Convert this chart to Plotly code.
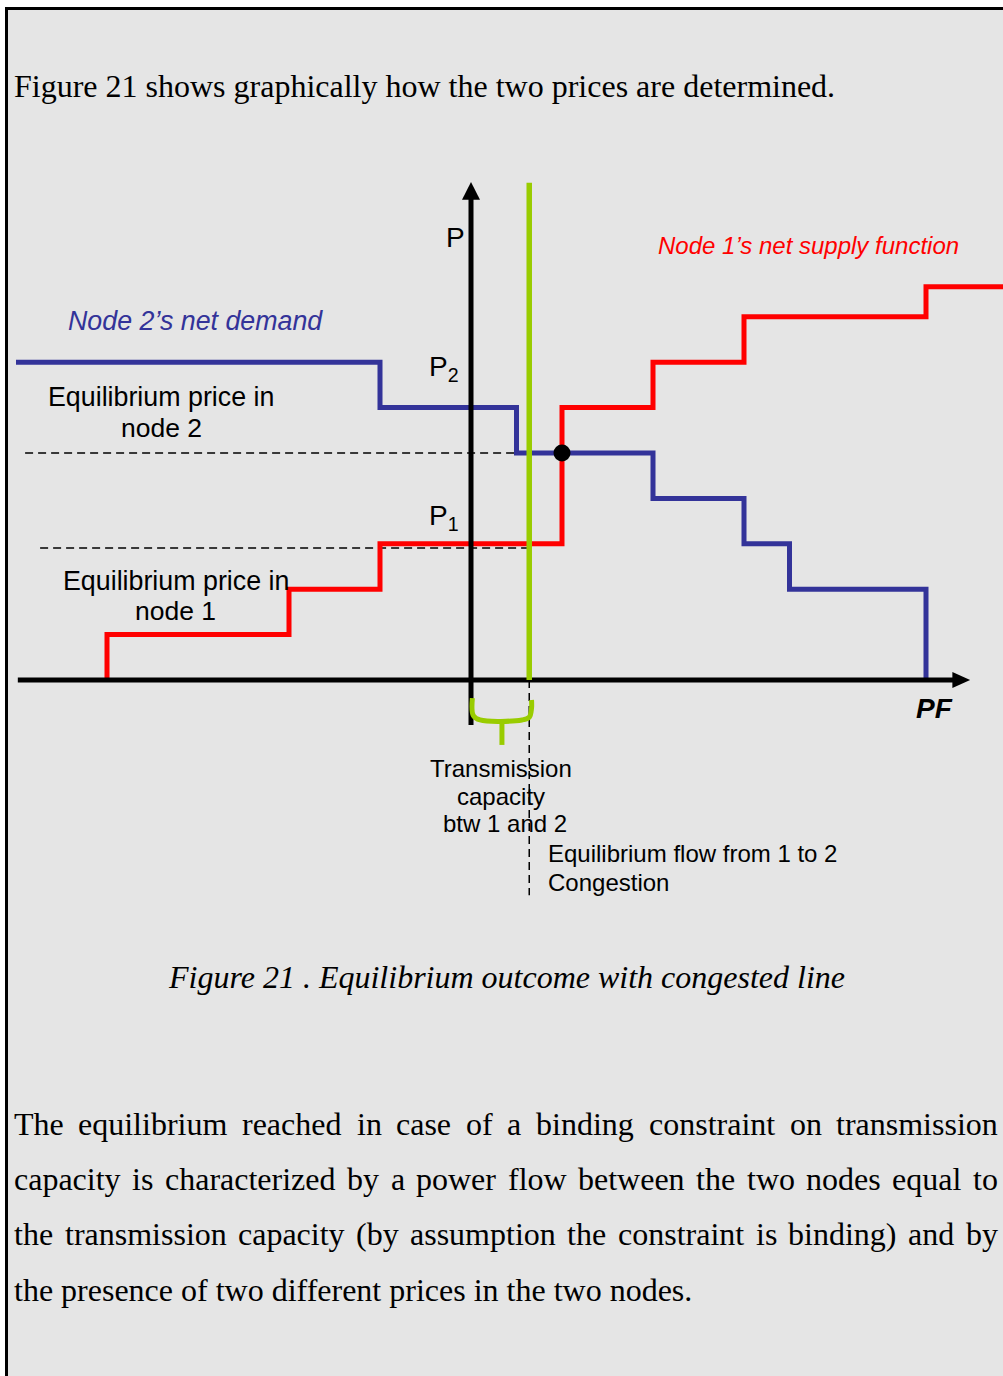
import plotly.graph_objects as go

W, H = 1003, 1376

# ---------------- data (chart units: quantity PF, price P) ----------------
SUPPLY_Q = [-8, -4, -2, 2, 4, 6, 10, 11.8]      # node 1 net supply breakpoints
SUPPLY_P = [0, 1, 2, 3, 6, 7, 8, 8.66]
DEMAND_Q = [-10, -2, 1, 4, 6, 7, 10]            # node 2 net demand breakpoints
DEMAND_P = [7, 6, 5, 4, 3, 2, 0]
EQ_Q = [2]
EQ_P = [5]
P1_LEVEL = 2.91
P2_LEVEL = 5.0
CAPACITY = 1.28
P2_DASH_Q = [-9.8, 1.0]
P1_DASH_Q = [-9.47, 1.25]
FLOW_DASH_P = [0, -4.74]
GREEN_TOP = 10.95
X_AXIS_Q = [-9.96, 10.6]
X_TIP = 10.97
Y_AXIS_P = [-0.99, 10.6]
Y_TIP = 10.97

# pixel scale of the axes
X0_PX, Y0_PX, UX, UY = 471, 680, 45.5, 45.4
XR = [-X0_PX / UX, (W - X0_PX) / UX]
YR = [(Y0_PX - H) / UY, Y0_PX / UY]

RED = "#ff0000"
BLUE = "#333399"
GREEN = "#99cc00"
SANS = "Liberation Sans, Arial, sans-serif"
SERIF = "Liberation Serif, Times New Roman, serif"

fig = go.Figure()

def line(xs, ys, color, width, dash="solid", shape="linear"):
    fig.add_trace(go.Scatter(x=xs, y=ys, mode="lines", hoverinfo="skip",
                             line=dict(color=color, width=width, dash=dash, shape=shape)))

# dashed guide lines
line(P2_DASH_Q, [P2_LEVEL, P2_LEVEL], "black", 1.5, "8px,5px")
line(P1_DASH_Q, [P1_LEVEL, P1_LEVEL], "black", 1.5, "8px,5px")
line([CAPACITY, CAPACITY], FLOW_DASH_P, "black", 1.5, "8px,5px")

# curves
line(SUPPLY_Q, SUPPLY_P, RED, 5, shape="vh")
line(DEMAND_Q, DEMAND_P, BLUE, 5, shape="hv")

# axes
line(X_AXIS_Q, [0, 0], "black", 5)
line([0, 0], Y_AXIS_P, "black", 5)
hx = 8 / UY
fig.add_trace(go.Scatter(x=[X_AXIS_Q[1] - 0.02, X_TIP, X_AXIS_Q[1] - 0.02, X_AXIS_Q[1] - 0.02],
                         y=[hx, 0, -hx, hx], mode="lines", fill="toself",
                         fillcolor="black", line=dict(width=0, color="black"), hoverinfo="skip"))
hy = 9 / UX
fig.add_trace(go.Scatter(x=[-hy, 0, hy, -hy],
                         y=[Y_AXIS_P[1] - 0.02, Y_TIP, Y_AXIS_P[1] - 0.02, Y_AXIS_P[1] - 0.02],
                         mode="lines", fill="toself",
                         fillcolor="black", line=dict(width=0, color="black"), hoverinfo="skip"))

# transmission capacity line and bracket (brace shape)
line([CAPACITY, CAPACITY], [0, GREEN_TOP], GREEN, 5.5)
line([0.03, 0.05, 0.2, 1.12, CAPACITY + 0.0, CAPACITY + 0.05, CAPACITY + 0.05],
     [-0.40, -0.78, -0.88, -0.88, -0.82, -0.62, -0.44], GREEN, 5, shape="spline")
line([0.68, 0.68], [-0.88, -1.43], GREEN, 5)

# equilibrium point
fig.add_trace(go.Scatter(x=EQ_Q, y=EQ_P, mode="markers", hoverinfo="skip",
                         marker=dict(color="black", size=17, line=dict(width=0))))

# ---------------- text ----------------
ann = []

def text(x, y, s, size, family=SANS, color="black", xanchor="center"):
    ann.append(dict(x=x / W, y=1 - y / H, xref="paper", yref="paper", text=s,
                    showarrow=False, xanchor=xanchor, yanchor="middle",
                    font=dict(family=family, size=size, color=color),
                    borderpad=0, borderwidth=0))

text(14, 86, "Figure 21 shows graphically how the two prices are determined.", 32, SERIF, xanchor="left")

text(455, 238, "P", 28)
text(444, 369, "P<sub>2</sub>", 28)
text(444, 517, "P<sub>1</sub>", 28)
text(808, 245, "<i>Node 1\u2019s net supply function</i>", 24, color=RED)
text(68, 321, "<i>Node 2\u2019s net demand</i>", 26.8, color=BLUE, xanchor="left")
text(161, 397, "Equilibrium price in", 26.8)
text(161, 428, "node 2", 26.5)
text(176, 581, "Equilibrium price in", 26.8)
text(175, 611, "node 1", 26.5)
text(934, 708, "<b><i>PF</i></b>", 28)
text(501, 768, "Transmission", 24)
text(501, 796, "capacity", 24)
text(505, 823, "btw 1 and 2", 24)
text(548, 853, "Equilibrium flow from 1 to 2", 24, xanchor="left")
text(548, 882, "Congestion", 24, xanchor="left")

text(506, 977, "<i>Figure 21 . Equilibrium outcome with congested line</i>", 32, SERIF)

# justified paragraph (Times metrics, 1/1000 em)
TW = {'a': 444, 'b': 500, 'c': 444, 'd': 500, 'e': 444, 'f': 333, 'g': 500, 'h': 500,
      'i': 278, 'j': 278, 'k': 500, 'l': 278, 'm': 778, 'n': 500, 'o': 500, 'p': 500,
      'q': 500, 'r': 333, 's': 389, 't': 278, 'u': 500, 'v': 500, 'w': 722, 'x': 500,
      'y': 500, 'z': 444, 'T': 611, '(': 333, ')': 333, '.': 250}
PARA = [
    "The equilibrium reached in case of a binding constraint on transmission",
    "capacity is characterized by a power flow between the two nodes equal to",
    "the transmission capacity (by assumption the constraint is binding) and by",
    "the presence of two different prices in the two nodes.",
]
PARA_Y = [1124, 1179, 1234, 1290]
LEFT, RIGHT, FS = 14, 998, 32
for k, (ln, yy) in enumerate(zip(PARA, PARA_Y)):
    if k == len(PARA) - 1:
        text(LEFT, yy, ln, FS, SERIF, xanchor="left")
        continue
    words = ln.split(" ")
    widths = [sum(TW.get(c, 500) for c in w) * FS / 1000 for w in words]
    gap = (RIGHT - LEFT - sum(widths)) / (len(words) - 1)
    xx = LEFT
    for w, wd in zip(words, widths):
        text(xx, yy, w, FS, SERIF, xanchor="left")
        xx += wd + gap

# page frame
shapes = [dict(type="rect", xref="paper", yref="paper", x0=6.5 / W, x1=1.02,
               y0=-0.02, y1=1 - 8.5 / H, fillcolor="#e5e5e5",
               line=dict(color="black", width=3), layer="below")]

fig.update_layout(
    width=W, height=H, margin=dict(l=0, r=0, t=0, b=0, pad=0),
    paper_bgcolor="white", plot_bgcolor="rgba(0,0,0,0)",
    showlegend=False, annotations=ann, shapes=shapes,
    xaxis=dict(range=XR, visible=False, fixedrange=True),
    yaxis=dict(range=YR, visible=False, fixedrange=True),
)

fig.write_html("out.html", config={"displayModeBar": False},
               post_script="document.body.style.margin='0';document.body.style.overflow='hidden';")
